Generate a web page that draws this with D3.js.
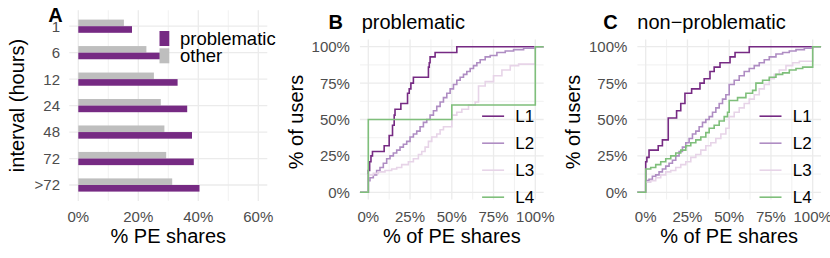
<!DOCTYPE html>
<html>
<head>
<meta charset="utf-8">
<script src="https://cdn.jsdelivr.net/npm/d3@7"></script>
<style>
  body { margin: 0; background: #fff; }
  svg { display: block; font-family: "Liberation Sans", Arial, sans-serif; }
</style>
</head>
<body>
<svg width="830" height="258"></svg>
<script>
// ---- data ----
var intervals = ["1", "6", "12", "24", "48", "72", ">72"];
var problematicShare = [17.9, 28.0, 33.1, 36.3, 37.9, 38.5, 40.4];
var otherShare = [15.2, 22.7, 25.2, 27.5, 28.7, 29.3, 31.3];
var shareTicks = [0, 20, 40, 60];
var shareMinor = [10, 30, 50];
var pctTicks = [0, 25, 50, 75, 100];
var pctMinor = [12.5, 37.5, 62.5, 87.5];
var levels = ["L1", "L2", "L3", "L4"];
var levelColors = ["#762a83", "#af8dc3", "#e7d4e8", "#7fbf7b"];

// ecdf steps: [% of PE shares, % of users]
var probL1 = [[0,15],[0.8,21],[1.6,25],[2.5,28],[9.5,32],[12.5,39],[14.5,46],[15.5,53],[16,57],[19.5,61],[23.5,68],[24.5,71],[25.5,75],[27,79],[36,86],[36.5,89],[37,93],[40,96],[53,100]];
var probL2 = [[0,8],[1,10],[3,12],[5,15],[7,17],[9,20],[11,23],[13,25],[15,27],[17,29],[19,31],[21,33],[23,35],[25,38],[27,40],[29,42],[31,45],[33,48],[35,50],[37,53],[39,56],[41,59],[43,62],[45,65],[47,68],[49,71],[51,74],[53,77],[55,79],[57,81],[59,83],[61,85],[63,87],[65,89],[67,91],[70,93],[73,94],[77,96],[82,97],[87,98],[93,99],[100,100]];
var probL3 = [[0,12],[3,13],[6,14],[10,15],[14,16],[17,17],[20,19],[24,21],[27,23],[30,26],[32,28],[34,31],[36,35],[38,38],[41,40],[43,43],[45,45],[50,53],[53,55],[56,57],[60,60],[64,62],[66,73],[70,76],[75,80],[80,84],[85,87],[90,88],[100,100]];
var probL4 = [[0,50],[50,60],[100,100]];

var nonL1 = [[0,21],[0.7,24],[2,29],[7.5,32],[10,36],[13.5,51],[18.5,56],[21,61],[23.5,68],[27.5,71],[32.5,75],[35,78],[38.5,83],[41,86],[44.5,89],[50.5,93],[53.5,96],[62,100]];
var nonL2 = [[0,8],[2,9],[4,11],[6,12],[8,14],[10,16],[12,18],[14,20],[16,22],[18,25],[20,28],[22,31],[24,34],[26,37],[28,40],[30,42],[32,45],[34,48],[36,50],[38,52],[40,55],[42,58],[44,61],[46,64],[48,67],[50,74],[53,77],[56,80],[59,83],[62,85],[65,87],[68,89],[71,91],[74,93],[78,95],[82,96],[86,97],[90,98],[95,99],[100,100]];
var nonL3 = [[0,7],[3,8],[6,10],[9,12],[12,14],[15,15],[18,17],[21,19],[24,21],[27,24],[30,26],[33,29],[36,32],[39,34],[42,37],[45,40],[48,44],[50,52],[53,55],[56,58],[59,61],[62,64],[65,67],[68,71],[71,74],[74,78],[77,81],[80,84],[84,87],[88,89],[92,90],[100,100]];
var nonL4 = [[0,16],[3,17],[6,19],[9,21],[12,23],[15,25],[18,27],[21,29],[24,32],[27,34],[30,36],[33,38],[36,41],[38,44],[41,46],[44,49],[47,52],[49,55],[50,63],[55,65],[60,68],[64,70],[66,75],[70,77],[74,79],[78,81],[82,82],[86,84],[90,85],[94,86],[100,100]];

var svg = d3.select("svg");
var gridCol = "#ebebeb", tickCol = "#4d4d4d";

// ---------- panel A ----------
var xA = d3.scaleLinear().domain([-3, 63]).range([69.3, 267.3]);
var yA = d3.scalePoint().domain(intervals).range([26.2, 185]);
var gA = svg.append("g");

gA.selectAll(".minor").data(shareMinor).enter().append("line")
    .attr("x1", function(d) { return xA(d); }).attr("x2", function(d) { return xA(d); })
    .attr("y1", 10.3).attr("y2", 200.9)
    .attr("stroke", gridCol).attr("stroke-width", 0.7);
gA.selectAll(".major").data(shareTicks).enter().append("line")
    .attr("x1", function(d) { return xA(d); }).attr("x2", function(d) { return xA(d); })
    .attr("y1", 10.3).attr("y2", 200.9)
    .attr("stroke", gridCol).attr("stroke-width", 1.3);
gA.selectAll(".hgrid").data(intervals).enter().append("line")
    .attr("x1", 69.3).attr("x2", 267.3)
    .attr("y1", function(d) { return yA(d); }).attr("y2", function(d) { return yA(d); })
    .attr("stroke", gridCol).attr("stroke-width", 1.3);

var barH = 6.6;
gA.selectAll(".other").data(intervals).enter().append("rect")
    .attr("x", xA(0))
    .attr("y", function(d) { return yA(d) - barH; })
    .attr("width", function(d, i) { return xA(otherShare[i]) - xA(0); })
    .attr("height", barH)
    .attr("fill", "#bebebe");
gA.selectAll(".prob").data(intervals).enter().append("rect")
    .attr("x", xA(0))
    .attr("y", function(d) { return yA(d); })
    .attr("width", function(d, i) { return xA(problematicShare[i]) - xA(0); })
    .attr("height", barH)
    .attr("fill", "#762a83");

gA.selectAll(".ylab").data(intervals).enter().append("text")
    .attr("x", 60).attr("y", function(d) { return yA(d); })
    .attr("dy", "0.36em").attr("text-anchor", "end")
    .attr("font-size", 15).attr("fill", tickCol)
    .text(function(d) { return d; });
gA.selectAll(".xlab").data(shareTicks).enter().append("text")
    .attr("x", function(d) { return xA(d); }).attr("y", 221.5)
    .attr("text-anchor", "middle")
    .attr("font-size", 15).attr("fill", tickCol)
    .text(function(d) { return d + "%"; });

gA.append("text")
    .attr("x", 168.3).attr("y", 242.5).attr("text-anchor", "middle")
    .attr("font-size", 20).text("% PE shares");
gA.append("text")
    .attr("transform", "translate(24,105.5) rotate(-90)")
    .attr("text-anchor", "middle")
    .attr("font-size", 20).text("interval (hours)");
gA.append("text")
    .attr("x", 48.3).attr("y", 21.7)
    .attr("font-size", 20).attr("font-weight", "bold").text("A");

// legend A
var legA = [["problematic", "#762a83"], ["other", "#bebebe"]];
gA.selectAll(".lkey").data(legA).enter().append("rect")
    .attr("x", 159.5).attr("y", function(d, i) { return 31 + i * 17.3; })
    .attr("width", 9.8).attr("height", 15)
    .attr("fill", function(d) { return d[1]; });
gA.selectAll(".ltxt").data(legA).enter().append("text")
    .attr("x", 180).attr("y", function(d, i) { return 45 + i * 17.3; })
    .attr("font-size", 18.5)
    .text(function(d) { return d[0]; });

// ---------- panels B and C ----------
function ecdfPanel(x0, title, letter, letterX, titleX, series) {
  var x = d3.scaleLinear().domain([0, 100]).range([x0, x0 + 167]);
  var y = d3.scaleLinear().domain([0, 100]).range([192.3, 46.7]);
  var g = svg.append("g");
  var xl = x(-5), xr = x(105), yt = y(105), yb = y(-5);

  g.selectAll(".vmin").data(pctMinor).enter().append("line")
      .attr("x1", function(d) { return x(d); }).attr("x2", function(d) { return x(d); })
      .attr("y1", yt).attr("y2", yb)
      .attr("stroke", gridCol).attr("stroke-width", 0.7);
  g.selectAll(".hmin").data(pctMinor).enter().append("line")
      .attr("x1", xl).attr("x2", xr)
      .attr("y1", function(d) { return y(d); }).attr("y2", function(d) { return y(d); })
      .attr("stroke", gridCol).attr("stroke-width", 0.7);
  g.selectAll(".vmaj").data(pctTicks).enter().append("line")
      .attr("x1", function(d) { return x(d); }).attr("x2", function(d) { return x(d); })
      .attr("y1", yt).attr("y2", yb)
      .attr("stroke", gridCol).attr("stroke-width", 1.3);
  g.selectAll(".hmaj").data(pctTicks).enter().append("line")
      .attr("x1", xl).attr("x2", xr)
      .attr("y1", function(d) { return y(d); }).attr("y2", function(d) { return y(d); })
      .attr("stroke", gridCol).attr("stroke-width", 1.3);

  var line = d3.line()
      .x(function(d) { return x(d[0]); })
      .y(function(d) { return y(d[1]); })
      .curve(d3.curveStepAfter);

  series.forEach(function(s, i) {
    var pts = [[-5, 0]].concat(s, [[105, s[s.length - 1][1]]]);
    g.append("path")
        .attr("d", line(pts))
        .attr("fill", "none")
        .attr("stroke", levelColors[i])
        .attr("stroke-width", 1.6);
  });

  // legend
  g.selectAll(".lk").data(levels).enter().append("line")
      .attr("x1", x0 + 113.8).attr("x2", x0 + 135.8)
      .attr("y1", function(d, i) { return 116.2 + i * 27; })
      .attr("y2", function(d, i) { return 116.2 + i * 27; })
      .attr("stroke", function(d, i) { return levelColors[i]; })
      .attr("stroke-width", 1.6);
  g.selectAll(".lt").data(levels).enter().append("text")
      .attr("x", x0 + 147).attr("y", function(d, i) { return 116.2 + i * 27; })
      .attr("dy", "0.36em").attr("font-size", 17)
      .text(function(d) { return d; });

  g.selectAll(".yl").data(pctTicks).enter().append("text")
      .attr("x", xl - 10).attr("y", function(d) { return y(d); })
      .attr("dy", "0.36em").attr("text-anchor", "end")
      .attr("font-size", 15).attr("fill", tickCol)
      .text(function(d) { return d + "%"; });
  g.selectAll(".xl").data(pctTicks).enter().append("text")
      .attr("x", function(d) { return x(d); }).attr("y", 221.5)
      .attr("text-anchor", "middle")
      .attr("font-size", 15).attr("fill", tickCol)
      .text(function(d) { return d + "%"; });

  g.append("text")
      .attr("x", (xl + xr) / 2).attr("y", 242.5).attr("text-anchor", "middle")
      .attr("font-size", 20).text("% of PE shares");
  g.append("text")
      .attr("transform", "translate(" + (x0 - 65.5) + ",122) rotate(-90)")
      .attr("text-anchor", "middle")
      .attr("font-size", 20).text("% of users");
  g.append("text")
      .attr("x", letterX).attr("y", 29)
      .attr("font-size", 20).attr("font-weight", "bold").text(letter);
  g.append("text")
      .attr("x", titleX).attr("y", 29)
      .attr("font-size", 20).text(title);
}

ecdfPanel(368.3, "problematic", "B", 328.5, 361.7, [probL1, probL2, probL3, probL4]);
ecdfPanel(645.7, "non\u2212problematic", "C", 603.3, 637.3, [nonL1, nonL2, nonL3, nonL4]);
</script>
</body>
</html>
